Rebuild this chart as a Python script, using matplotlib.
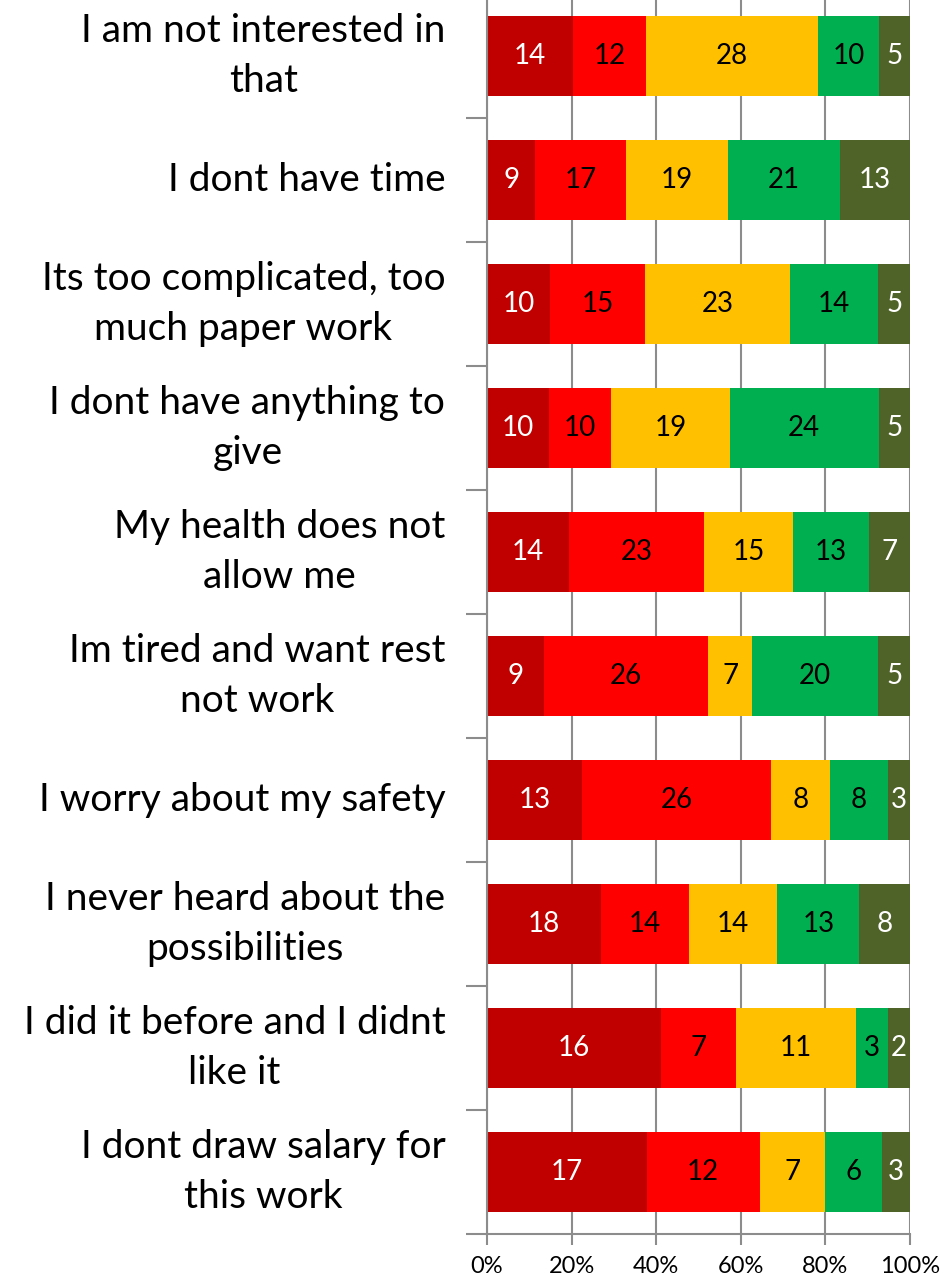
import matplotlib
matplotlib.use("Agg")
import matplotlib.pyplot as plt
import numpy as np

plt.rcParams['font.family'] = ['Lato', 'DejaVu Sans']

categories = [
    "I am not interested in\nthat",
    "I dont have time",
    "Its too complicated, too\nmuch paper work",
    "I dont have anything to\ngive",
    "My health does not\nallow me",
    "Im tired and want rest\nnot work",
    "I worry about my safety",
    "I never heard about the\npossibilities",
    "I did it before and I didnt\nlike it",
    "I dont draw salary for\nthis work",
]
s1 = [14, 9, 10, 10, 14, 9, 13, 18, 16, 17]
s2 = [12, 17, 15, 10, 23, 26, 26, 14, 7, 12]
s3 = [28, 19, 23, 19, 15, 7, 8, 14, 11, 7]
s4 = [10, 21, 14, 24, 13, 20, 8, 13, 3, 6]
s5 = [5, 13, 5, 5, 7, 5, 3, 8, 2, 3]
series = [s1, s2, s3, s4, s5]
colors = ['#C00000', '#FF0000', '#FFC000', '#00B050', '#4F6228']
text_colors = ['white', 'black', 'black', 'black', 'white']
xtick_labels = ['0%', '20%', '40%', '60%', '80%', '100%']

fig = plt.figure(figsize=(9.43, 12.79), dpi=100)
ax = fig.add_axes([487/943, 1 - 1234/1279, (910-487)/943, (1234+6)/1279])

data = np.array(series, dtype=float)
totals = data.sum(axis=0)
pct = data / totals
n = len(categories)
y = np.arange(n)
left = np.zeros(n)
for i in range(len(series)):
    ax.barh(y, pct[i], left=left, height=0.645, color=colors[i], zorder=2,
            edgecolor='none')
    for j in range(n):
        ax.text(left[j] + pct[i][j] / 2, y[j], str(series[i][j]),
                ha='center', va='center', fontsize=20, color=text_colors[i], zorder=3)
    left += pct[i]

ax.set_xlim(0, 1)
ax.set_ylim(n - 0.5, -0.5)
ax.set_xticks(np.linspace(0, 1, 6))
ax.set_xticklabels(xtick_labels, fontsize=17)
ax.xaxis.grid(True, color='#8C8C8C', linewidth=1.5, zorder=0)
ax.set_axisbelow(True)

ax.set_yticks(np.arange(-0.5, n, 1.0))
ax.set_yticklabels([])
ax.set_yticks(y, minor=True)
ax.set_yticklabels(categories, minor=True, fontsize=28)
for lab in ax.get_yticklabels(minor=True):
    lab.set_multialignment('center')
    lab.set_linespacing(1.5)
    lab.set_verticalalignment('center')
ax.tick_params(axis='y', which='major', length=15, width=1.5, color='#8C8C8C', direction='out')
ax.tick_params(axis='y', which='minor', length=0, pad=30)
ax.tick_params(axis='x', length=8, width=1.5, color='#8C8C8C', direction='out', pad=8)

for side in ['top', 'right']:
    ax.spines[side].set_visible(False)
for side in ['left', 'bottom']:
    ax.spines[side].set_color('#8C8C8C')
    ax.spines[side].set_linewidth(1.5)

fig.savefig('out.png', dpi=100)
